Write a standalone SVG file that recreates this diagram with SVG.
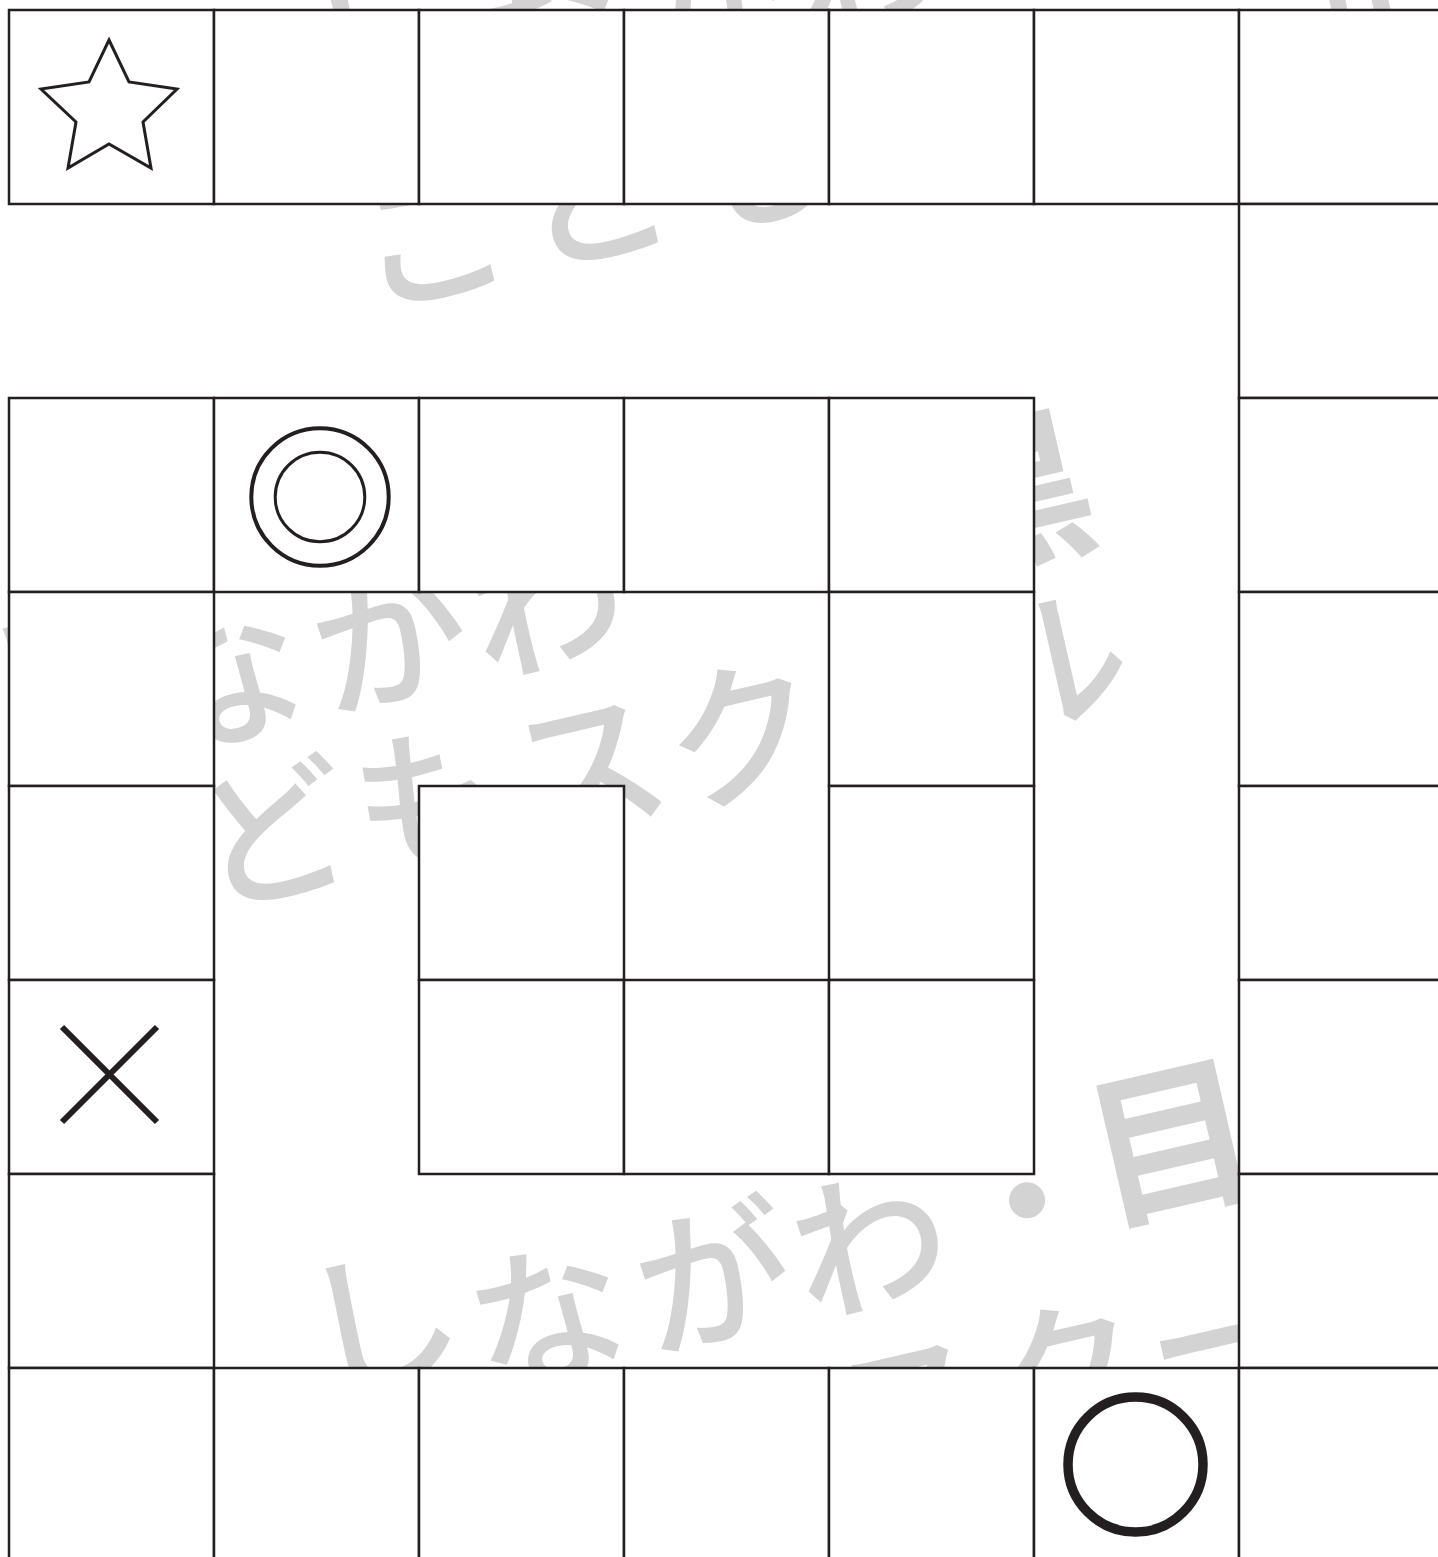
<svg xmlns="http://www.w3.org/2000/svg" xmlns:xlink="http://www.w3.org/1999/xlink" width="1438" height="1557" viewBox="0 0 1438 1557">
<style>
.cell{fill:#ffffff;stroke:#231f20;stroke-width:2.5}
.wm{fill:#d3d3d3;font-family:"Noto Sans CJK JP","Noto Sans CJK SC",sans-serif;font-size:155px;font-weight:500;text-anchor:middle}
.wk{font-size:168px;font-weight:700}
.sym{fill:none;stroke:#231f20}
</style>
<defs>
<g id="wmblock">
<text class="wm" transform="translate(58 680) rotate(-13)" y="59">し</text>
<text class="wm" transform="translate(224 676) rotate(-13)" y="59">な</text>
<text class="wm" transform="translate(390 636) rotate(-13)" y="59">が</text>
<text class="wm" transform="translate(546 602) rotate(-13)" y="59">わ</text>
<text class="wm" transform="translate(704 560) rotate(-13)" y="59">・</text>
<text class="wm wk" transform="translate(848 501) rotate(-13)" y="63">目</text>
<text class="wm wk" transform="translate(1008 494) rotate(-13)" y="63">黒</text>
<text class="wm" transform="translate(106 875) rotate(-13)" y="59">こ</text>
<text class="wm" transform="translate(272 832) rotate(-13)" y="59">ど</text>
<text class="wm" transform="translate(430 797) rotate(-13)" y="59">も</text>
<text class="wm" transform="translate(588 765) rotate(-13)" y="59">ス</text>
<text class="wm" transform="translate(742 733) rotate(-13)" y="59">ク</text>
<text class="wm" transform="translate(900 697) rotate(-13)" y="59">ー</text>
<text class="wm" transform="translate(1049 661) rotate(-13)" y="59">ル</text>
</g>
</defs>
<rect x="0" y="0" width="1438" height="1557" fill="#ffffff"/>
<g id="watermark">
<use href="#wmblock" xlink:href="#wmblock"/>
<use href="#wmblock" xlink:href="#wmblock" transform="translate(324 -640)"/>
<use href="#wmblock" xlink:href="#wmblock" transform="translate(323 640)"/>
</g>
<g id="cells">
<g id="r0c0"><rect class="cell" x="9" y="10" width="205" height="194"/><path class="sym" stroke-width="3" stroke-linejoin="miter" d="M109,40 L129,82 L177,89 L143,122 L151,168 L109,144 L68,168 L76,122 L41,89 L89,82 Z"/></g>
<g id="r0c1"><rect class="cell" x="214" y="10" width="205" height="194"/></g>
<g id="r0c2"><rect class="cell" x="419" y="10" width="205" height="194"/></g>
<g id="r0c3"><rect class="cell" x="624" y="10" width="205" height="194"/></g>
<g id="r0c4"><rect class="cell" x="829" y="10" width="205" height="194"/></g>
<g id="r0c5"><rect class="cell" x="1034" y="10" width="205" height="194"/></g>
<g id="r0c6"><rect class="cell" x="1239" y="10" width="205" height="194"/></g>
<g id="r1c6"><rect class="cell" x="1239" y="204" width="205" height="194"/></g>
<g id="r2c0"><rect class="cell" x="9" y="398" width="205" height="194"/></g>
<g id="r2c1"><rect class="cell" x="214" y="398" width="205" height="194"/><circle class="sym" stroke-width="4" cx="320" cy="497" r="68.7"/><circle class="sym" stroke-width="3" cx="320" cy="497" r="44.8"/></g>
<g id="r2c2"><rect class="cell" x="419" y="398" width="205" height="194"/></g>
<g id="r2c3"><rect class="cell" x="624" y="398" width="205" height="194"/></g>
<g id="r2c4"><rect class="cell" x="829" y="398" width="205" height="194"/></g>
<g id="r2c6"><rect class="cell" x="1239" y="398" width="205" height="194"/></g>
<g id="r3c0"><rect class="cell" x="9" y="592" width="205" height="194"/></g>
<g id="r3c4"><rect class="cell" x="829" y="592" width="205" height="194"/></g>
<g id="r3c6"><rect class="cell" x="1239" y="592" width="205" height="194"/></g>
<g id="r4c0"><rect class="cell" x="9" y="786" width="205" height="194"/></g>
<g id="r4c2"><rect class="cell" x="419" y="786" width="205" height="194"/></g>
<g id="r4c4"><rect class="cell" x="829" y="786" width="205" height="194"/></g>
<g id="r4c6"><rect class="cell" x="1239" y="786" width="205" height="194"/></g>
<g id="r5c0"><rect class="cell" x="9" y="980" width="205" height="194"/><path class="sym" stroke-width="6" d="M62,1027 L157,1122 M157,1027 L62,1122"/></g>
<g id="r5c2"><rect class="cell" x="419" y="980" width="205" height="194"/></g>
<g id="r5c3"><rect class="cell" x="624" y="980" width="205" height="194"/></g>
<g id="r5c4"><rect class="cell" x="829" y="980" width="205" height="194"/></g>
<g id="r5c6"><rect class="cell" x="1239" y="980" width="205" height="194"/></g>
<g id="r6c0"><rect class="cell" x="9" y="1174" width="205" height="194"/></g>
<g id="r6c6"><rect class="cell" x="1239" y="1174" width="205" height="194"/></g>
<g id="r7c0"><rect class="cell" x="9" y="1368" width="205" height="194"/></g>
<g id="r7c1"><rect class="cell" x="214" y="1368" width="205" height="194"/></g>
<g id="r7c2"><rect class="cell" x="419" y="1368" width="205" height="194"/></g>
<g id="r7c3"><rect class="cell" x="624" y="1368" width="205" height="194"/></g>
<g id="r7c4"><rect class="cell" x="829" y="1368" width="205" height="194"/></g>
<g id="r7c5"><rect class="cell" x="1034" y="1368" width="205" height="194"/><circle class="sym" stroke-width="9.5" cx="1135.5" cy="1464.5" r="67.5"/></g>
<g id="r7c6"><rect class="cell" x="1239" y="1368" width="205" height="194"/></g>
</g>
<g id="connectors"></g>
</svg>
